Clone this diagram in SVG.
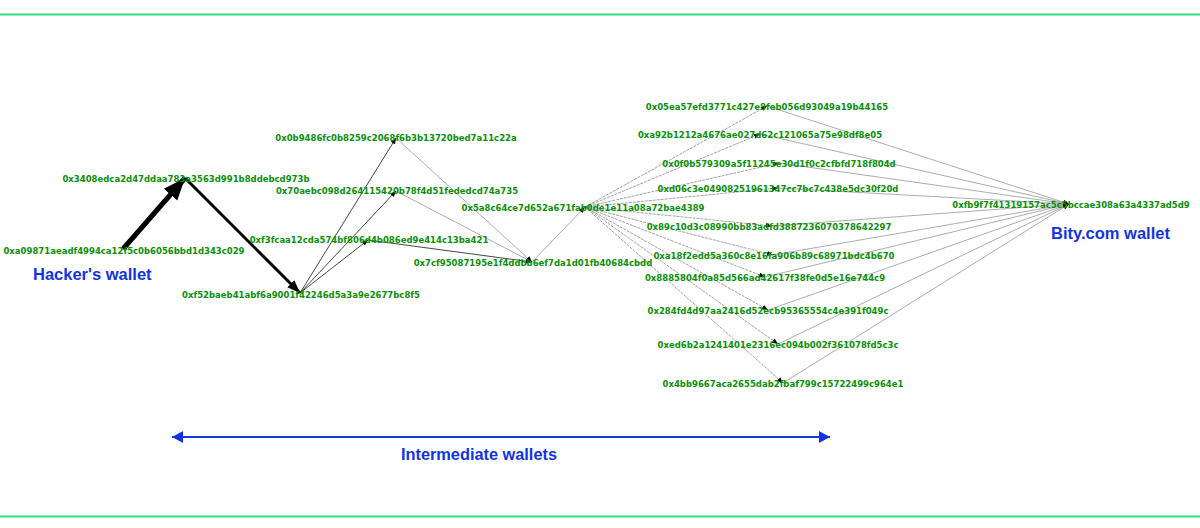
<svg xmlns="http://www.w3.org/2000/svg" width="1200" height="528" viewBox="0 0 1200 528">
<style>
.lbl{font-family:"DejaVu Sans",sans-serif;font-weight:bold;font-size:8.5px;fill:#0a8f0a;text-anchor:middle}
.big{font-family:"Liberation Sans",Arial,sans-serif;font-weight:bold;font-size:16.5px;fill:#1234e0}
.e1{stroke:#000;fill:none}
.e2{stroke:#333;stroke-width:0.9;fill:none}
.e3{stroke:#777;stroke-width:0.7;fill:none;stroke-dasharray:3 1}
.e4{stroke:#888;stroke-width:0.7;fill:none}
</style>
<defs>
<marker id="mBig" markerUnits="userSpaceOnUse" markerWidth="24" markerHeight="20" refX="22" refY="9" orient="auto" viewBox="0 0 24 18"><path d="M0,0 L22,9 L0,18 z" fill="#000"/></marker>
<marker id="mMid" markerUnits="userSpaceOnUse" markerWidth="14" markerHeight="10" refX="13" refY="5" orient="auto" viewBox="0 0 14 10"><path d="M0,0 L13,5 L0,10 z" fill="#000"/></marker>
<marker id="mSm" markerUnits="userSpaceOnUse" markerWidth="6" markerHeight="5" refX="6" refY="2.5" orient="auto" viewBox="0 0 6 5"><path d="M0,0 L6,2.5 L0,5 z" fill="#000"/></marker>
<marker id="mBlueE" markerUnits="userSpaceOnUse" markerWidth="12" markerHeight="12" refX="11" refY="6" orient="auto" viewBox="0 0 12 12"><path d="M0,0 L11,6 L0,12 z" fill="#1234e0"/></marker>
<marker id="mBlueS" markerUnits="userSpaceOnUse" markerWidth="12" markerHeight="12" refX="1" refY="6" orient="auto" viewBox="0 0 12 12"><path d="M12,0 L1,6 L12,12 z" fill="#1234e0"/></marker>
</defs>
<rect width="1200" height="528" fill="#fff"/>
<line x1="0" y1="14.5" x2="1200" y2="14.5" stroke="#2fe07c" stroke-width="2"/>
<line x1="0" y1="516.5" x2="1200" y2="516.5" stroke="#2fe07c" stroke-width="2"/>

<g id="connectors">
<line class="e1" x1="123" y1="249" x2="185" y2="178" stroke-width="5" marker-end="url(#mBig)"/>
<line class="e1" x1="185" y1="178" x2="300" y2="293" stroke-width="3" marker-end="url(#mMid)"/>
<line class="e2" x1="300" y1="293" x2="396" y2="138" marker-end="url(#mSm)"/>
<line class="e2" x1="300" y1="293" x2="396" y2="191" marker-end="url(#mSm)"/>
<line class="e2" x1="300" y1="293" x2="368" y2="240" marker-end="url(#mSm)"/>
<line class="e4" x1="396" y1="138" x2="532" y2="262" stroke="#555" marker-end="url(#mSm)"/>
<line class="e4" x1="396" y1="191" x2="532" y2="262" stroke="#555" marker-end="url(#mSm)"/>
<line class="e2" x1="368" y1="240" x2="532" y2="262" stroke-width="1.4" marker-end="url(#mSm)"/>
<line class="e4" x1="532" y1="262" x2="585" y2="207" marker-end="url(#mSm)"/>
<g>
<line class="e3" x1="585" y1="207" x2="767" y2="106" marker-end="url(#mSm)"/>
<line class="e3" x1="585" y1="207" x2="760" y2="134" marker-end="url(#mSm)"/>
<line class="e3" x1="585" y1="207" x2="779" y2="163" marker-end="url(#mSm)"/>
<line class="e3" x1="585" y1="207" x2="778" y2="188" marker-end="url(#mSm)"/>
<line class="e3" x1="585" y1="207" x2="772" y2="226" marker-end="url(#mSm)"/>
<line class="e3" x1="585" y1="207" x2="773" y2="255" marker-end="url(#mSm)"/>
<line class="e3" x1="585" y1="207" x2="765" y2="277" marker-end="url(#mSm)"/>
<line class="e3" x1="585" y1="207" x2="768" y2="310" marker-end="url(#mSm)"/>
<line class="e3" x1="585" y1="207" x2="778" y2="344" marker-end="url(#mSm)"/>
<line class="e3" x1="585" y1="207" x2="783" y2="383" marker-end="url(#mSm)"/>
</g>
<g>
<line class="e4" x1="767" y1="106" x2="1069" y2="204" marker-end="url(#mSm)"/>
<line class="e4" x1="760" y1="134" x2="1069" y2="204" marker-end="url(#mSm)"/>
<line class="e4" x1="779" y1="163" x2="1069" y2="204" marker-end="url(#mSm)"/>
<line class="e4" x1="778" y1="188" x2="1069" y2="204" marker-end="url(#mSm)"/>
<line class="e4" x1="772" y1="226" x2="1069" y2="204" marker-end="url(#mSm)"/>
<line class="e4" x1="773" y1="255" x2="1069" y2="204" marker-end="url(#mSm)"/>
<line class="e4" x1="765" y1="277" x2="1069" y2="204" marker-end="url(#mSm)"/>
<line class="e4" x1="768" y1="310" x2="1069" y2="204" marker-end="url(#mSm)"/>
<line class="e4" x1="778" y1="344" x2="1069" y2="204" marker-end="url(#mSm)"/>
<line class="e4" x1="783" y1="383" x2="1069" y2="204" marker-end="url(#mSm)"/>
</g>
<line x1="172" y1="437" x2="830" y2="437" stroke="#1234e0" stroke-width="2" marker-start="url(#mBlueS)" marker-end="url(#mBlueE)"/>
</g>

<g id="nA"><text class="lbl" x="124" y="254">0xa09871aeadf4994ca12f5c0b6056bbd1d343c029</text></g>
<g id="nB"><text class="lbl" x="186" y="182">0x3408edca2d47ddaa783a3563d991b8ddebcd973b</text></g>
<g id="nC"><text class="lbl" x="301" y="298">0xf52baeb41abf6a9001f42246d5a3a9e2677bc8f5</text></g>
<g id="nD"><text class="lbl" x="396" y="141">0x0b9486fc0b8259c2068f6b3b13720bed7a11c22a</text></g>
<g id="nE"><text class="lbl" x="397" y="194">0x70aebc098d264115420b78f4d51fededcd74a735</text></g>
<g id="nF"><text class="lbl" x="369" y="243">0xf3fcaa12cda574bf806d4b086ed9e414c13ba421</text></g>
<g id="nG"><text class="lbl" x="533" y="266">0x7cf95087195e1f4ddbb6ef7da1d01fb40684cbdd</text></g>
<g id="nH"><text class="lbl" x="583" y="211">0x5a8c64ce7d652a671fab0de1e11a08a72bae4389</text></g>
<g id="nI1"><text class="lbl" x="767" y="110">0x05ea57efd3771c427e8feb056d93049a19b44165</text></g>
<g id="nI2"><text class="lbl" x="760" y="138">0xa92b1212a4676ae027d62c121065a75e98df8e05</text></g>
<g id="nI3"><text class="lbl" x="779" y="167">0x0f0b579309a5f11245e30d1f0c2cfbfd718f804d</text></g>
<g id="nI4"><text class="lbl" x="778" y="192">0xd06c3e04908251961347cc7bc7c438e5dc30f20d</text></g>
<g id="nI5"><text class="lbl" x="769" y="230">0x89c10d3c08990bb83adfd3887236070378642297</text></g>
<g id="nI6"><text class="lbl" x="774" y="259">0xa18f2edd5a360c8e16fa906b89c68971bdc4b670</text></g>
<g id="nI7"><text class="lbl" x="765" y="281">0x8885804f0a85d566ad42617f38fe0d5e16e744c9</text></g>
<g id="nI8"><text class="lbl" x="768" y="314">0x284fd4d97aa2416d52ecb95365554c4e391f049c</text></g>
<g id="nI9"><text class="lbl" x="778" y="348">0xed6b2a1241401e2316ec094b002f361078fd5c3c</text></g>
<g id="nI10"><text class="lbl" x="783" y="387">0x4bb9667aca2655dab2fbaf799c15722499c964e1</text></g>
<g id="nJ"><text class="lbl" x="1071" y="208">0xfb9f7f41319157ac5c5bccae308a63a4337ad5d9</text></g>

<g id="captions">
<text class="big" x="33" y="280">Hacker's wallet</text>
<text class="big" x="1051" y="239">Bity.com wallet</text>
<text class="big" x="479" y="460" text-anchor="middle" font-size="17" textLength="156" lengthAdjust="spacingAndGlyphs">Intermediate wallets</text>
</g>
</svg>
